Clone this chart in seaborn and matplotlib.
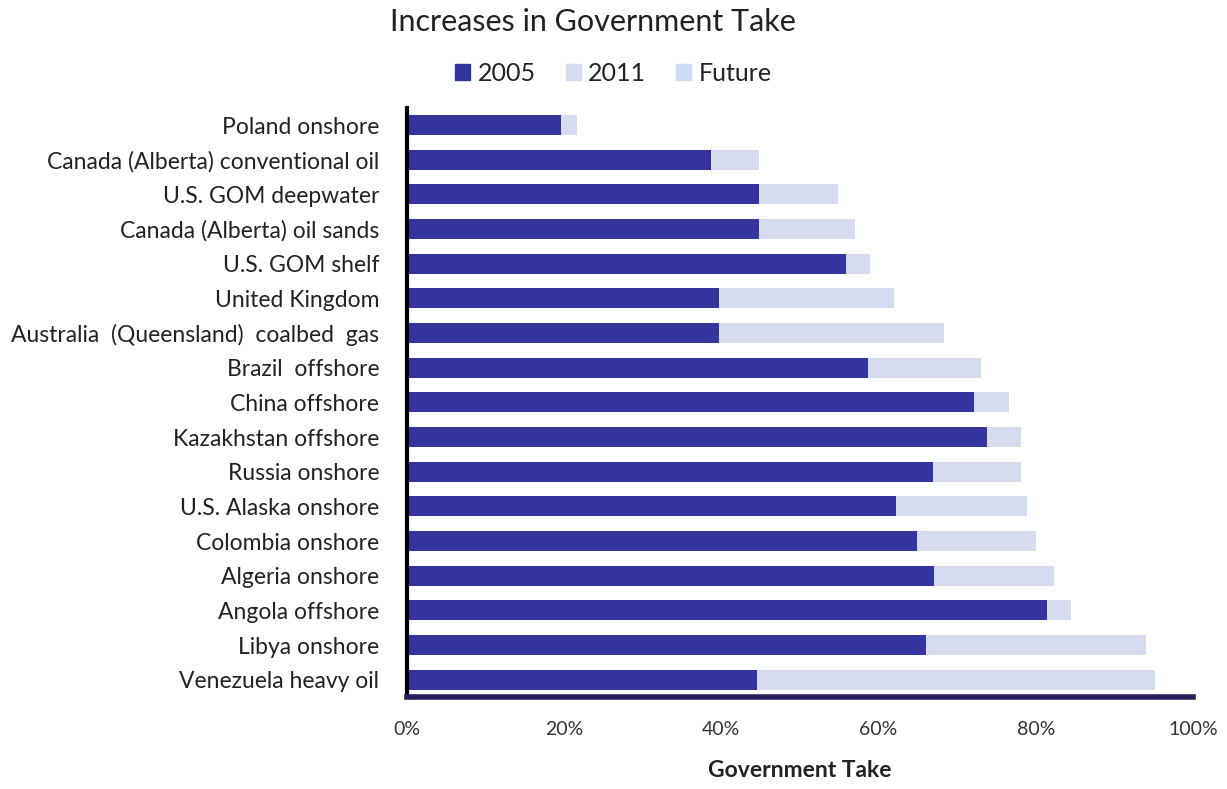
import matplotlib
matplotlib.use("Agg")
import matplotlib.pyplot as plt
import seaborn as sns
import numpy as np
import pandas as pd
from matplotlib.patches import Patch
from matplotlib.ticker import FixedLocator, PercentFormatter

categories = [
    "Poland onshore",
    "Canada (Alberta) conventional oil",
    "U.S. GOM deepwater",
    "Canada (Alberta) oil sands",
    "U.S. GOM shelf",
    "United Kingdom",
    "Australia  (Queensland)  coalbed  gas",
    "Brazil  offshore",
    "China offshore",
    "Kazakhstan offshore",
    "Russia onshore",
    "U.S. Alaska onshore",
    "Colombia onshore",
    "Algeria onshore",
    "Angola offshore",
    "Libya onshore",
    "Venezuela heavy oil",
]
take_2005 = [19.6, 38.7, 44.8, 44.8, 55.9, 39.7, 39.7, 58.7, 72.1, 73.8, 66.9, 62.2, 64.9, 67.0, 81.4, 66.0, 44.5]
inc_2011 = [2.0, 6.1, 10.0, 12.2, 3.0, 22.3, 28.6, 14.3, 4.5, 4.3, 11.2, 16.7, 15.1, 15.3, 3.1, 28.0, 50.7]
inc_future = [0.0] * 17
series_names = ["2005", "2011", "Future"]
xticks = [0, 20, 40, 60, 80, 100]

c2005 = "#35359f"
c2011 = "#d6dcee"
cfut = "#cddbf3"

df = pd.DataFrame({"cat": categories, "y2005": take_2005, "y2011": inc_2011, "fut": inc_future})
df["cum2011"] = df["y2005"] + df["y2011"]
df["total"] = df["cum2011"] + df["fut"]

sns.set_style("white")
plt.rcParams["font.family"] = ["Lato", "DejaVu Sans"]

fig = plt.figure(figsize=(12.27, 7.89), dpi=100)
ax = fig.add_axes([0.3317, 0.1166, 0.6406, 0.7469])

kw = dict(width=0.57, ax=ax, saturation=1, orient="h", linewidth=0)
sns.barplot(data=df, x="total", y="cat", color=cfut, **kw)
sns.barplot(data=df, x="cum2011", y="cat", color=c2011, **kw)
sns.barplot(data=df, x="y2005", y="cat", color=c2005, **kw)

ax.set_xlim(0, 100)
ax.set_ylim(16.5, -0.5)
ax.set_xticks(xticks)
ax.xaxis.set_major_formatter(PercentFormatter(decimals=0))
ax.tick_params(axis="x", labelsize=14, colors="#333333", length=6, width=2, direction="inout", pad=14)
ax.tick_params(axis="y", which="major", length=0, labelsize=16.5, pad=20, labelcolor="#222222")
ax.yaxis.set_minor_locator(FixedLocator(np.arange(-0.5, 17, 1)))
ax.tick_params(axis="y", which="minor", length=5, width=2, direction="in", color="black")
ax.set_ylabel("")
ax.set_xlabel("Government Take", fontsize=16.5, fontweight="bold", labelpad=16, color="#222222")

for s in ["top", "right"]:
    ax.spines[s].set_visible(False)
ax.spines["left"].set_color("black")
ax.spines["left"].set_linewidth(3)
ax.spines["bottom"].set_color("#2b1d5c")
ax.spines["bottom"].set_linewidth(4)
ax.grid(False)

fig.text(0.483, 0.972, "Increases in Government Take", ha="center", va="center", fontsize=22, color="#222222")
handles = [Patch(color=c2005), Patch(color=c2011), Patch(color=cfut)]
fig.legend(handles, series_names, loc="center", bbox_to_anchor=(0.50, 0.907), ncol=3, frameon=False,
           fontsize=18, handlelength=0.6, handleheight=0.6, handletextpad=0.3, columnspacing=1.2,
           labelcolor="#222222")

fig.savefig("out.png", dpi=100, facecolor="white")
